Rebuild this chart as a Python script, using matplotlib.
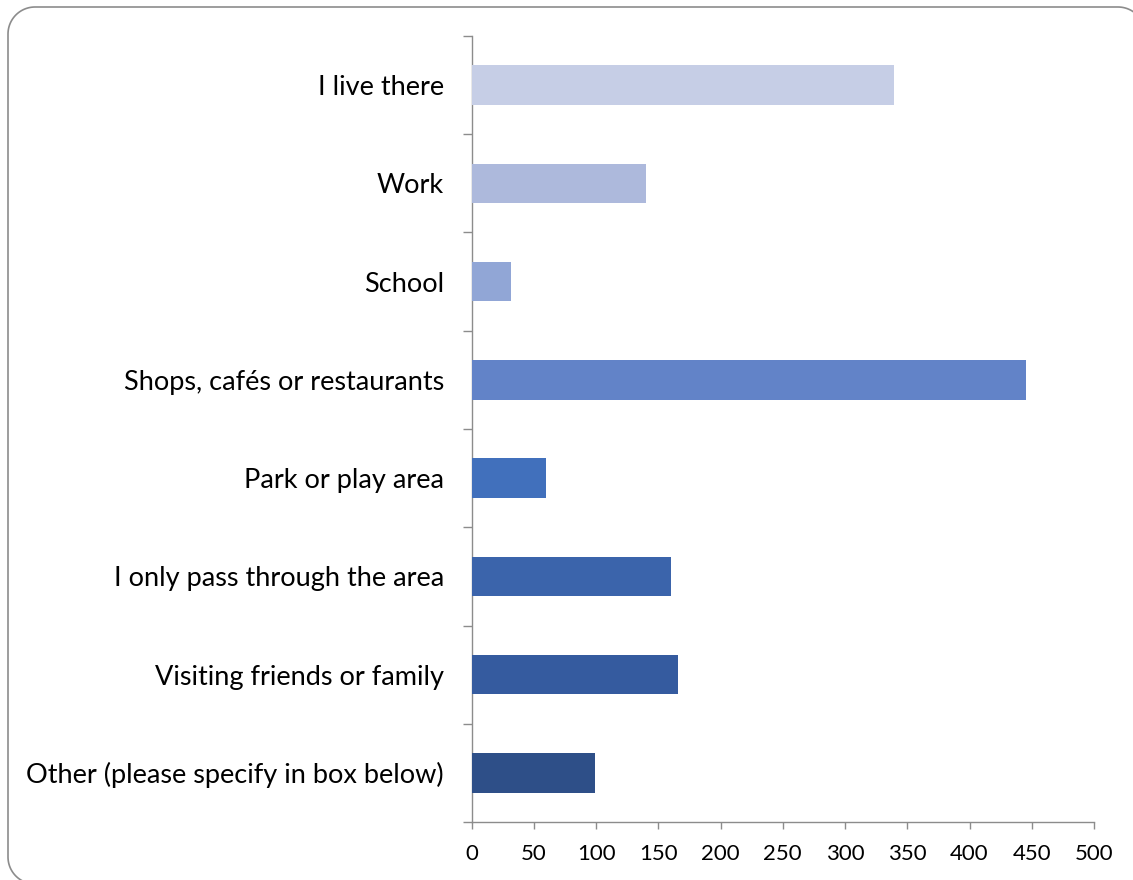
import matplotlib

matplotlib.use("Agg")
import matplotlib.pyplot as plt
import numpy as np
from matplotlib.lines import Line2D
from matplotlib.transforms import IdentityTransform

plt.rcParams["font.family"] = ["Lato", "DejaVu Sans"]

reasons = [
    "I live there",
    "Work",
    "School",
    "Shops, cafés or restaurants",
    "Park or play area",
    "I only pass through the area",
    "Visiting friends or family",
    "Other (please specify in box below)",
]
responses = [339, 140, 32, 445, 60, 160, 166, 99]
bar_colors = [
    "#c6cee6",
    "#adb9dc",
    "#91a6d6",
    "#6283c8",
    "#4170bc",
    "#3b64ab",
    "#355b9f",
    "#2e4f88",
]
x_ticks = list(range(0, 501, 50))

axis_grey = "#8c8c8c"

fig = plt.figure(figsize=(11.33, 8.8), dpi=100)
ax = fig.add_axes([0.4162, 0.0659, 0.5494, 0.8932])

y = np.arange(len(reasons))
ax.barh(y, responses, height=0.4, color=bar_colors, zorder=3)

ax.set_ylim(len(reasons) - 0.5, -0.5)
ax.set_xlim(0, 500)

# category labels centred, tick marks on the category boundaries
ax.set_yticks(y)
ax.set_yticklabels(reasons, fontsize=19.5)
ax.set_yticks(np.arange(-0.5, len(reasons) + 0.5, 1), minor=True)
ax.tick_params(axis="y", which="major", length=0, pad=20)
ax.tick_params(axis="y", which="minor", length=6.5, width=1, color=axis_grey)

ax.set_xticks(x_ticks)
ax.set_xticklabels([str(v) for v in x_ticks], fontsize=16)
ax.tick_params(axis="x", length=5, width=1, color=axis_grey, pad=11)

for side in ("top", "right"):
    ax.spines[side].set_visible(False)
for side in ("left", "bottom"):
    ax.spines[side].set_color(axis_grey)
    ax.spines[side].set_linewidth(1)


# rounded chart frame in pixel coordinates; only the top and left sides fall on the canvas
def corner(cx, cy, r, a0, a1, n=24):
    t = np.radians(np.linspace(a0, a1, n))
    return cx + r * np.cos(t), cy + r * np.sin(t)


r = 27
left, top, right, bottom = 8, 873, 1145, -4
parts = [
    corner(right - r, top - r, r, 0, 90),
    corner(left + r, top - r, r, 90, 180),
    corner(left + r, bottom + r, r, 180, 270),
]
fx = np.concatenate([p[0] for p in parts])
fy = np.concatenate([p[1] for p in parts])
fig.add_artist(
    Line2D(fx, fy, transform=IdentityTransform(), color=axis_grey, linewidth=1.2)
)

fig.savefig("out.png", dpi=100)
